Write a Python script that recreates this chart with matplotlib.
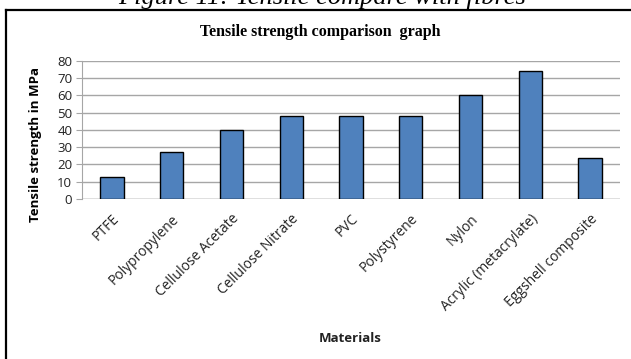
import numpy as np
import matplotlib.pyplot as plt
from matplotlib.lines import Line2D

# Tensile strength of common polymers vs the eggshell composite
materials = ["PTFE", "Polypropylene", "Cellulose Acetate", "Cellulose Nitrate",
             "PVC", "Polystyrene", "Nylon", "Acrylic (metacrylate)",
             "Eggshell composite"]
strength = [13, 27, 40, 48, 48, 48, 60, 74, 24]
yticks = [0, 10, 20, 30, 40, 50, 60, 70, 80]

W, H = 631, 359
fig = plt.figure(figsize=(W / 100, H / 100), dpi=100)

# caption of the figure, cut off at the top edge
fig.text(322 / W, 1 - 4 / H, "Figure 11: Tensile compare with fibres",
         ha="center", va="baseline", fontsize=19, style="italic",
         family="Liberation Serif")

# frame around the chart (left and top only)
fig.add_artist(Line2D([6 / W, 6 / W], [0, 1 - 10 / H], color="black", lw=1.6,
                      transform=fig.transFigure))
fig.add_artist(Line2D([6 / W, 1], [1 - 10 / H, 1 - 10 / H], color="black", lw=1.6,
                      transform=fig.transFigure))

ax = fig.add_axes([82 / W, 1 - 199 / H, (620 - 82) / W, (199 - 61) / H])
x = np.arange(len(materials))
ax.bar(x, strength, width=0.39, color="#4f81bd", edgecolor="black", linewidth=1.0,
       zorder=3)

ax.set_xlim(-0.5, len(materials) - 0.5)
ax.set_ylim(0, 80)
ax.set_yticks(yticks)
ax.grid(axis="y", color="#a6a6a6", linewidth=1.0, zorder=0)
for s in ["top", "right", "bottom"]:
    ax.spines[s].set_visible(False)
ax.spines["left"].set_color("#a6a6a6")
ax.axhline(0, color="#a6a6a6", linewidth=1.0, zorder=2)
ax.tick_params(axis="y", length=4, color="#a6a6a6", labelsize=9.5, pad=3,
               labelcolor="#222222")
ax.tick_params(axis="x", length=0, pad=9)
for lab in ax.get_yticklabels():
    lab.set_family("Open Sans")

ax.set_xticks(x)
ax.set_xticklabels(materials, rotation=45, ha="right", rotation_mode="anchor",
                   fontsize=10, family="Open Sans", color="#222222")

fig.text(320 / W, 1 - 32 / H, "Tensile strength comparison  graph",
         ha="center", va="center", fontsize=11.5, fontweight="bold",
         family="Liberation Serif")
fig.text(36 / W, 1 - 145 / H, "Tensile strength in MPa", rotation=90,
         ha="center", va="center", fontsize=9.5, fontweight="bold",
         family="Open Sans")
fig.text(350 / W, 1 - 338 / H, "Materials", ha="center", va="center",
         fontsize=9.5, fontweight="bold", family="Open Sans", color="#222222")

fig.savefig("out.png", dpi=100)
